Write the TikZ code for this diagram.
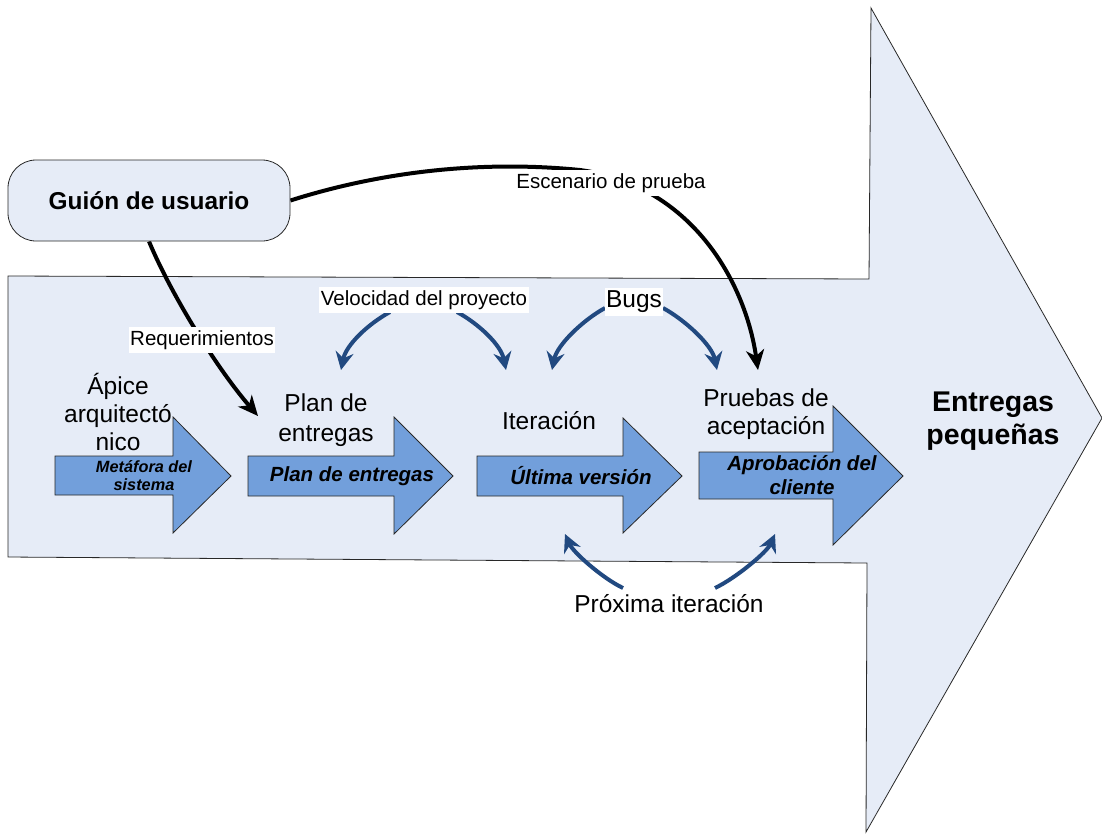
\documentclass[tikz,border=0pt]{standalone}
\usepackage{fontspec}
\setmainfont{Liberation Sans}
\usetikzlibrary{arrows.meta}
\definecolor{bgblue}{RGB}{230,236,247}
\definecolor{arrblue}{RGB}{114,159,219}
\definecolor{linkblue}{RGB}{33,73,128}
\definecolor{edgegray}{RGB}{40,40,40}
\pgfdeclarelayer{bg}
\pgfsetlayers{bg,main}
\begin{document}
\begin{tikzpicture}[x=1pt,y=-1pt,
  bigshape/.style={fill=bgblue, draw=edgegray, line width=0.8pt},
  smallarrow/.style={fill=arrblue, draw=edgegray, line width=0.8pt},
  lbl/.style={font=\fontsize{20.5}{24}\selectfont, inner xsep=1.5pt, inner ysep=3pt, fill=white},
  lblmid/.style={font=\fontsize{24.5}{28}\selectfont, align=center, inner sep=0pt},
  inlbl/.style={font=\fontsize{20.5}{24}\selectfont\bfseries\itshape, align=center, inner sep=0pt},
  blacklink/.style={line width=4pt, draw=black, -{Stealth[length=20pt,width=18pt,inset=6pt]}},
  bluelink/.style={line width=4pt, draw=linkblue, -{Stealth[length=18pt,width=18pt,inset=6pt]}}
]
\useasboundingbox (0,0) rectangle (1102,836);

% big arrow
\begin{pgfonlayer}{bg}
\path[bigshape] (8,276) -- (869,279) -- (871,8) -- (1102,418) -- (866,832) -- (867,563) -- (8,557) -- cycle;
\end{pgfonlayer}

% user story box
\node[bigshape, rounded corners=28pt, minimum width=282pt, minimum height=81pt,
      font=\fontsize{24.4}{28}\selectfont\bfseries] (guion) at (149,200.5) {Guión de usuario};

% small arrows
\path[smallarrow] (55,456) -- (173,456) -- (173,417) -- (231,476) -- (173,533) -- (173,495) -- (55,495) -- cycle;
\path[smallarrow] (248,456) -- (394,456) -- (394,417) -- (453,476) -- (394,534) -- (394,496) -- (248,496) -- cycle;
\path[smallarrow] (477,456) -- (623,456) -- (623,418) -- (682,476) -- (623,533) -- (623,496) -- (477,496) -- cycle;
\path[smallarrow] (699,452) -- (833,452) -- (833,406) -- (903,476) -- (833,545) -- (833,499) -- (699,499) -- cycle;

% texts inside small arrows
\node[inlbl, font=\fontsize{16.3}{18}\selectfont\bfseries\itshape] (met) at (144,476) {Metáfora del\\sistema};
\node[inlbl] (planin) at (352,476) {Plan de entregas};
\node[inlbl] (ult) at (581,476) {Última versión};
\node[inlbl] (apro) at (802,475) {Aprobación del\\cliente};

% stage labels
\node[lblmid] (apice) at (118,412) {Ápice\\arquitectó\\nico};
\node[lblmid, font=\fontsize{24.5}{30}\selectfont] (plan) at (326,420) {Plan de\\entregas};
\node[lblmid] (iter) at (549,421) {Iteración};
\node[lblmid] (pruebas) at (766,414) {Pruebas de\\aceptación};
\node[lblmid, font=\fontsize{28.5}{33}\selectfont\bfseries] (entregas) at (993,421) {Entregas\\pequeñas};
\node[lblmid] (prox) at (669,604) {Próxima iteración};

% connector labels
\node[lbl] (esc) at (611,183) {Escenario de prueba};
\node[lbl] (req) at (202,340) {Requerimientos};
\node[lbl] (vel) at (424,300) {Velocidad del proyecto};
\node[lbl, font=\fontsize{24.5}{28}\selectfont] (bugs) at (634,302) {Bugs};

% connector end points
\coordinate (reqend) at (258,416);
\coordinate (escend) at (758,370);
\coordinate (v1s) at (390,312); \coordinate (v1e) at (341,370);
\coordinate (v2s) at (457,312); \coordinate (v2e) at (506,370);
\coordinate (b1s) at (605,308); \coordinate (b1e) at (552,370);
\coordinate (b2s) at (663,308); \coordinate (b2e) at (717,370);
\coordinate (p1s) at (623,588); \coordinate (p1e) at (565,534);
\coordinate (p2s) at (715,588); \coordinate (p2e) at (775,534);

\begin{pgfonlayer}{bg}
\draw[blacklink] (guion.south) .. controls (170,292) and (215,366) .. (reqend);
\draw[blacklink] (guion.east) .. controls (380,172) and (480,160) .. (580,170)
   .. controls (690,185) and (745,280) .. (escend);
\draw[bluelink] (v1s) .. controls (368,324) and (346,345) .. (v1e);
\draw[bluelink] (v2s) .. controls (479,324) and (501,345) .. (v2e);
\draw[bluelink] (b1s) .. controls (583,320) and (557,345) .. (b1e);
\draw[bluelink] (b2s) .. controls (685,320) and (712,345) .. (b2e);
\draw[bluelink] (p1s) .. controls (602,578) and (573,552) .. (p1e);
\draw[bluelink] (p2s) .. controls (736,578) and (767,552) .. (p2e);
\end{pgfonlayer}
\end{tikzpicture}
\end{document}
